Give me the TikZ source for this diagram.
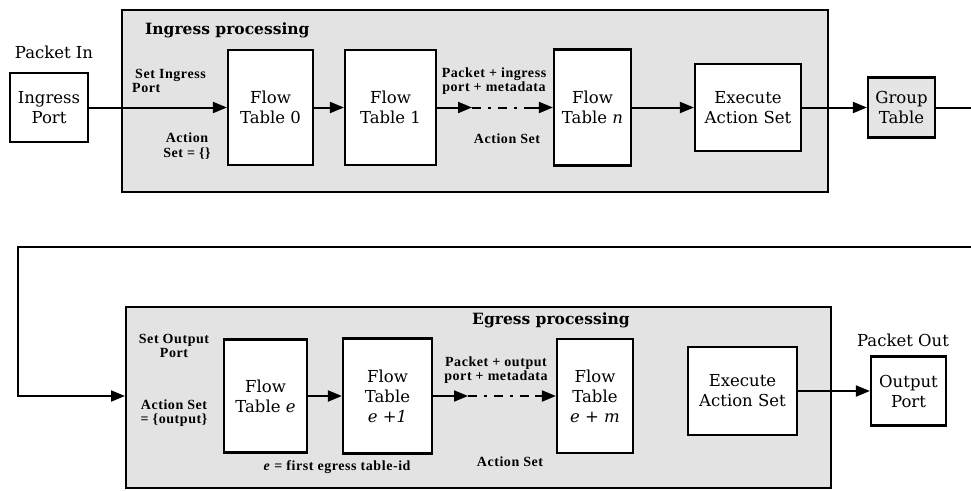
\documentclass[tikz,border=0pt]{standalone}
\usepackage{fontspec}
\setmainfont{DejaVu Serif}
\newfontfamily\lblfont[LetterSpace=4]{Liberation Serif}
\usetikzlibrary{arrows.meta}
\begin{document}
\begin{tikzpicture}[x=1pt,y=-1pt,
 box/.style={draw=black, line width=2.2pt, fill=white, align=center, inner sep=0pt, font=\fontsize{16.5}{20}\selectfont},
 region/.style={draw=black, line width=2pt, fill=black!11, inner sep=0pt},
 lbl/.style={font=\lblfont\bfseries\fontsize{14}{14.5}\selectfont, align=center, inner sep=0pt},
 ttl/.style={font=\bfseries\fontsize{15.5}{18}\selectfont, inner sep=0pt},
 plain/.style={font=\fontsize{16.5}{18}\selectfont, inner sep=0pt},
 arr/.style={line width=2pt, -{Triangle[length=14pt,width=11pt]}},
 ln/.style={line width=2pt},
]
\useasboundingbox (0,0) rectangle (971,490);
% regions
\node[region, minimum width=706pt, minimum height=182pt] (ingress) at (475,101) {};
\node[region, minimum width=705pt, minimum height=181pt] (egress) at (478.5,397.5) {};
% titles
\node[ttl, anchor=west] (ttin) at (145,30) {Ingress processing};
\node[ttl] (tteg) at (551,320) {Egress processing};
\node[plain] (pin) at (54,52) {Packet In};
\node[plain] (pout) at (903,340) {Packet Out};
% ingress boxes
\node[box, minimum width=78pt, minimum height=69pt] (inport) at (49,107.5) {Ingress\\Port};
\node[box, minimum width=85pt, minimum height=115pt] (ft0) at (270.5,107.5) {Flow\\Table 0};
\node[box, minimum width=91pt, minimum height=115pt] (ft1) at (390.5,107.5) {Flow\\Table 1};
\node[box, minimum width=77pt, minimum height=116pt] (ftn) at (592.5,107.5) {Flow\\Table \textit{n}};
\node[box, minimum width=106pt, minimum height=87pt] (exec1) at (748,107.5) {Execute\\Action Set};
\node[box, fill=black!10, minimum width=67pt, minimum height=60pt] (group) at (901.5,107.5) {Group\\Table};
% egress boxes
\node[box, minimum width=83pt, minimum height=113pt] (fte) at (265.5,396) {Flow\\Table \textit{e}};
\node[box, minimum width=89pt, minimum height=115pt] (fte1) at (387.5,396) {Flow\\Table\\\textit{e} +\textit{1}};
\node[box, minimum width=76pt, minimum height=114pt] (ftem) at (595,396) {Flow\\Table\\\textit{e} + \textit{m}};
\node[box, minimum width=109pt, minimum height=88pt] (exec2) at (742.5,391) {Execute\\Action Set};
\node[box, minimum width=75pt, minimum height=69pt] (outport) at (908.5,391) {Output\\Port};
% labels
\node[lbl, align=left] (setin) at (169,81) {\hspace*{3pt}Set Ingress\\Port};
\node[lbl] (aset0) at (187,146) {Action\\Set = \{\}};
\node[lbl] (pk1) at (494,81) {Packet + ingress\\port + metadata};
\node[lbl] (as1) at (507,139) {Action Set};
\node[lbl] (setout) at (174,346) {Set Output\\Port};
\node[lbl] (aset2) at (174,413) {Action Set\\= \{output\}};
\node[lbl] (efirst) at (337,467) {\textit{e} = first egress table-id};
\node[lbl] (pk2) at (496,370) {Packet + output\\port + metadata};
\node[lbl] (as2) at (510,462) {Action Set};
% ingress connectors
\draw[arr] (inport) -- (ft0);
\draw[arr] (ft0) -- (ft1);
\coordinate (d1) at (472,107.5);
\coordinate (d2) at (532,107.5);
\draw[arr] (ft1) -- (d1);
\draw[ln, dash pattern=on 9pt off 7pt on 3pt off 7pt] (d1) -- (d2);
\draw[arr] (d2) -- (ftn);
\draw[arr] (ftn) -- (exec1);
\draw[arr] (exec1) -- (group);
% wrap-around
\coordinate (r1) at (973,107.5);
\coordinate (r2) at (18,247);
\draw[arr] (group.east) -- (r1) |- (r2) |- (egress.west |- fte.center);
% egress connectors
\draw[arr] (fte) -- (fte1);
\coordinate (d3) at (468,396);
\coordinate (d4) at (535,396);
\draw[arr] (fte1) -- (d3);
\draw[ln, dash pattern=on 9pt off 7pt on 3pt off 7pt] (d3) -- (d4);
\draw[arr] (d4) -- (ftem);
\draw[arr] (exec2) -- (outport);
\end{tikzpicture}
\end{document}
